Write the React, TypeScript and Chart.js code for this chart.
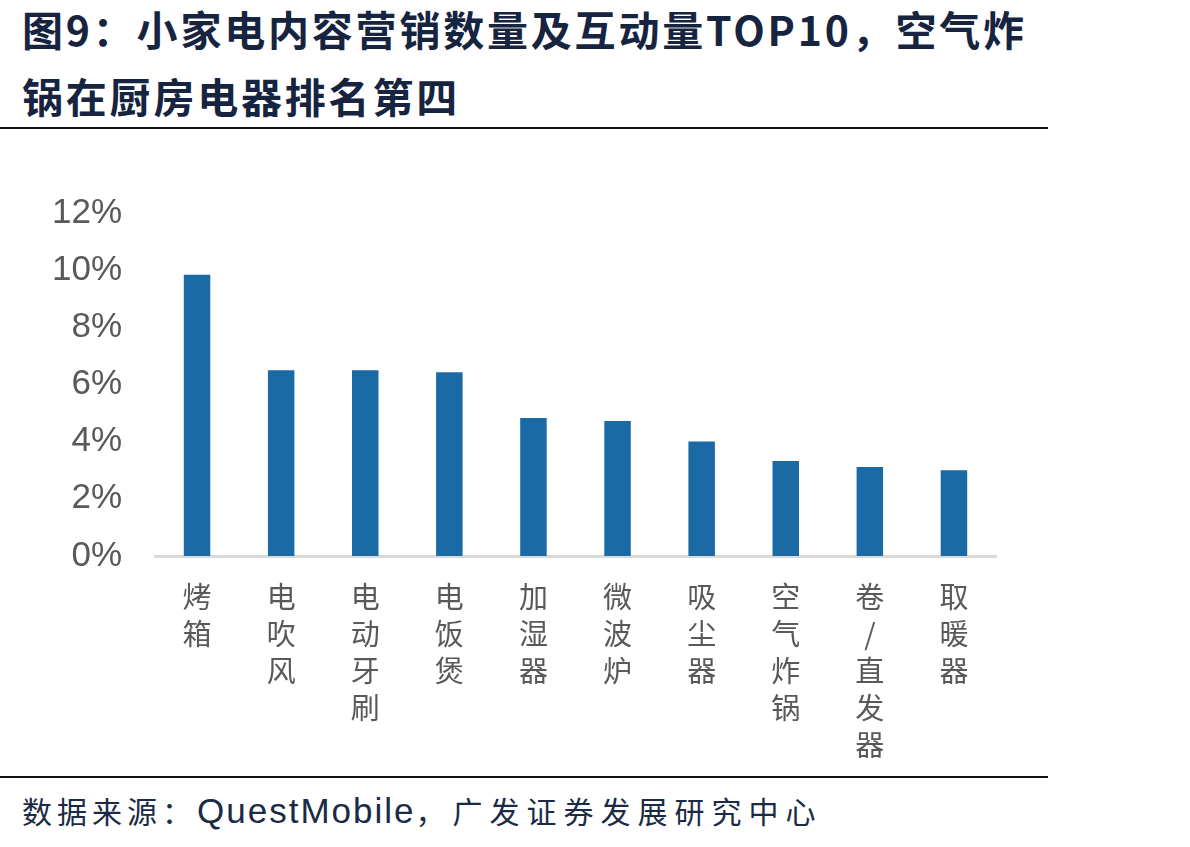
import React, { useEffect, useRef } from "react";
import { Chart, registerables } from "chart.js";

Chart.register(...registerables);

const categories: string[][] = [
  ["烤", "箱"],
  ["电", "吹", "风"],
  ["电", "动", "牙", "刷"],
  ["电", "饭", "煲"],
  ["加", "湿", "器"],
  ["微", "波", "炉"],
  ["吸", "尘", "器"],
  ["空", "气", "炸", "锅"],
  ["卷", "/", "直", "发", "器"],
  ["取", "暖", "器"],
];

const shareValues: number[] = [9.84, 6.5, 6.5, 6.43, 4.83, 4.72, 4.01, 3.32, 3.11, 3.0];

const yTicks: number[] = [0, 2, 4, 6, 8, 10, 12];

const titleLine1 = "图9：小家电内容营销数量及互动量TOP10，空气炸";
const titleLine2 = "锅在厨房电器排名第四";

export default function App() {
  const canvasRef = useRef<HTMLCanvasElement | null>(null);

  useEffect(() => {
    if (!canvasRef.current) return;
    const chart = new Chart(canvasRef.current, {
      type: "bar",
      data: {
        labels: categories,
        datasets: [
          {
            data: shareValues,
            backgroundColor: "#1a6aa5",
            borderWidth: 0,
            categoryPercentage: 1,
            barPercentage: 0.315,
          },
        ],
      },
      options: {
        animation: false,
        responsive: false,
        maintainAspectRatio: false,
        layout: { padding: { top: 10, right: 14, left: 0, bottom: 0 } },
        plugins: {
          legend: { display: false },
          tooltip: { enabled: false },
        },
        scales: {
          x: {
            grid: { display: false, drawTicks: false },
            border: { display: true, color: "#d9d9d9", width: 3 },
            ticks: {
              autoSkip: false,
              maxRotation: 0,
              minRotation: 0,
              padding: 22,
              color: "#595959",
              font: { family: "'Noto Sans CJK SC', sans-serif", size: 29, lineHeight: "37px" },
            },
            afterFit: (axis: any) => {
              axis.height = 204;
            },
          },
          y: {
            min: 0,
            max: 12,
            afterBuildTicks: (axis: any) => {
              axis.ticks = yTicks.map((v) => ({ value: v }));
            },
            grid: { display: false, drawTicks: false },
            border: { display: false },
            ticks: {
              padding: 33,
              color: "#595959",
              font: { family: "'Liberation Sans', Arial, sans-serif", size: 35 },
              callback: (v: any) => `${v}%`,
            },
            afterFit: (axis: any) => {
              axis.width = 155;
            },
          },
        },
      },
    });
    return () => chart.destroy();
  }, []);

  const titleStyle: React.CSSProperties = {
    position: "absolute",
    left: 22,
    fontFamily: "'Noto Sans CJK SC', sans-serif",
    fontWeight: 700,
    fontSize: 41,
    letterSpacing: 2.8,
    color: "#16243f",
    whiteSpace: "nowrap",
    lineHeight: "50px",
  };

  return (
    <div
      style={{
        position: "absolute",
        left: 0,
        top: 0,
        width: 1190,
        height: 847,
        background: "#ffffff",
        overflow: "hidden",
      }}
    >
      <div style={{ ...titleStyle, top: 3 }}>{titleLine1}</div>
      <div style={{ ...titleStyle, top: 70 }}>{titleLine2}</div>
      <div style={{ position: "absolute", left: 0, top: 127, width: 1048, height: 2, background: "#111" }} />
      <canvas
        ref={canvasRef}
        width={1010}
        height={601}
        style={{ position: "absolute", left: 0, top: 159, width: 1010, height: 601 }}
      />
      <div style={{ position: "absolute", left: 0, top: 776, width: 1048, height: 2, background: "#111" }} />
      <div
        style={{
          position: "absolute",
          left: 22,
          top: 790,
          fontFamily: "'Noto Sans CJK SC', sans-serif",
          fontSize: 30,
          letterSpacing: 5,
          lineHeight: "40px",
          color: "#1b2a45",
          whiteSpace: "nowrap",
        }}
      >
        数据来源：
        <span style={{ fontFamily: "'Liberation Sans', Arial, sans-serif", fontSize: 35, letterSpacing: 2 }}>
          QuestMobile
        </span>
        <span style={{ letterSpacing: 7 }}>，广发证券发展研究中心</span>
      </div>
    </div>
  );
}
